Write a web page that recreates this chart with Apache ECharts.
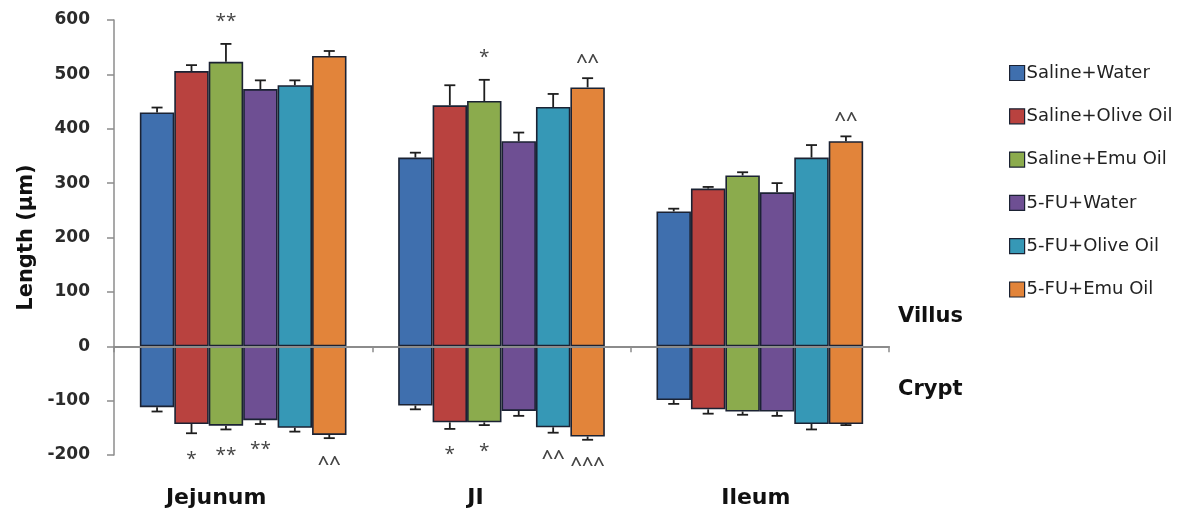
<!DOCTYPE html>
<html>
<head>
<meta charset="utf-8">
<script src="https://cdn.jsdelivr.net/npm/echarts@6/dist/echarts.min.js"></script>
<style>
html,body{margin:0;padding:0;background:#fff;}
#chart{width:1197px;height:517px;}
</style>
</head>
<body>
<div id="chart"></div>
<script>
// ---- data ----
const categories = ['Jejunum', 'JI', 'Ileum'];
const treatments = ['Saline+Water', 'Saline+Olive Oil', 'Saline+Emu Oil', '5-FU+Water', '5-FU+Olive Oil', '5-FU+Emu Oil'];
const colors = ['#3f6fae', '#b9423f', '#8bab4d', '#6e4f93', '#3698b6', '#e2843a'];
// villus length (positive), per treatment: [Jejunum, JI, Ileum]
const villusMean = [
  [430, 347, 248],
  [506, 443, 290],
  [523, 451, 314],
  [473, 377, 283],
  [480, 440, 347],
  [534, 476, 377]
];
const villusErr = [
  [9, 9, 5],
  [11, 37, 3],
  [33, 39, 6],
  [16, 16, 17],
  [9, 24, 23],
  [9, 17, 9]
];
// crypt depth (drawn negative)
const cryptMean = [
  [-112, -109, -99],
  [-143, -140, -116],
  [-146, -140, -120],
  [-136, -119, -120],
  [-150, -149, -143],
  [-163, -166, -143]
];
const cryptErr = [
  [8, 7, 7],
  [17, 12, 8],
  [7, 5, 6],
  [7, 9, 8],
  [7, 10, 10],
  [6, 6, 2]
];
// significance marks
const villusSig = [
  ['', '', ''],
  ['', '', ''],
  ['**', '*', ''],
  ['', '', ''],
  ['', '', ''],
  ['', '^^', '^^']
];
const cryptSig = [
  ['', '', ''],
  ['*', '*', ''],
  ['**', '*', ''],
  ['**', '', ''],
  ['', '^^', ''],
  ['^^', '^^^', '']
];
const yTicks = {min: -200, max: 600, interval: 100};
const yAxisName = 'Length (µm)';
const sideLabels = ['Villus', 'Crypt'];

// ---- chart ----
const chart = echarts.init(document.getElementById('chart'));
const BORDER = '#1b2233';
const CAT_GAP = '20%';
const series = [];
treatments.forEach((name, i) => {
  const style = {color: colors[i], borderColor: BORDER, borderWidth: 1.6};
  series.push({
    name: name, type: 'bar', stack: 's' + i, xAxisIndex: 0,
    barGap: '0%', barCategoryGap: CAT_GAP,
    itemStyle: style, data: villusMean[i], silent: true
  });
  series.push({
    name: name, type: 'bar', stack: 's' + i, xAxisIndex: 0,
    barGap: '0%', barCategoryGap: CAT_GAP,
    itemStyle: style, data: cryptMean[i], silent: true
  });
});
treatments.forEach((name, i) => {
  const data = [];
  categories.forEach((c, k) => {
    data.push([k, villusMean[i][k], villusErr[i][k], 1, villusSig[i][k]]);
    data.push([k, cryptMean[i][k], cryptErr[i][k], -1, cryptSig[i][k]]);
  });
  series.push({
    name: name, type: 'custom', xAxisIndex: 0, silent: true, z: 5,
    data: data,
    renderItem: function (params, api) {
      const k = api.value(0);
      const mean = api.value(1);
      const err = api.value(2);
      const dir = api.value(3);
      const sig = data[params.dataIndex][4];
      const layout = api.barLayout({barGap: '0%', barCategoryGap: CAT_GAP, count: treatments.length});
      const base = api.coord([k, mean]);
      const tip = api.coord([k, mean + dir * err]);
      const x = base[0] + layout[i].offsetCenter;
      const cap = 5.5;
      const ls = {stroke: '#1e1e1e', lineWidth: 1.8};
      const children = [
        {type: 'line', shape: {x1: x, y1: base[1], x2: x, y2: tip[1]}, style: ls},
        {type: 'line', shape: {x1: x - cap, y1: tip[1], x2: x + cap, y2: tip[1]}, style: ls}
      ];
      if (sig) {
        const isCaret = sig.indexOf('^') >= 0;
        let ty;
        if (dir > 0) ty = tip[1] - (isCaret ? 21 : 26);
        else ty = tip[1] + (isCaret ? 21 : 22);
        children.push({
          type: 'text',
          style: {
            text: sig, x: x, y: ty + (isCaret ? 5 : 4), align: 'center', verticalAlign: 'middle',
            fill: '#444', font: (isCaret ? '600 20px' : '19px') + ' "Open Sans"'
          }
        });
      }
      return {type: 'group', children: children};
    }
  });
});

const option = {
  animation: false,
  backgroundColor: '#ffffff',
  grid: {left: 114, right: 308, top: 20, bottom: 62, containLabel: false},
  legend: {
    orient: 'vertical', left: 1009, top: 64, itemGap: 25.3, padding: 0,
    itemWidth: 15, itemHeight: 15, itemStyle: {borderColor: BORDER, borderWidth: 1.2},
    icon: 'rect',
    data: treatments,
    textStyle: {fontFamily: 'DejaVu Sans', fontSize: 18, color: '#222', padding: [0, 0, 0, -3]},
    selectedMode: false
  },
  xAxis: [
    {
      type: 'category', data: categories, position: 'bottom', z: 10,
      axisLine: {onZero: true, lineStyle: {color: '#8c8c8c', width: 2}},
      axisTick: {show: true, length: 6, lineStyle: {color: '#8c8c8c', width: 1.5}},
      axisLabel: {show: false}, splitLine: {show: false}
    },
    {
      type: 'category', data: categories, position: 'bottom',
      axisLine: {show: false, onZero: false}, axisTick: {show: false},
      splitLine: {show: false},
      axisLabel: {
        margin: 32, fontFamily: 'DejaVu Sans', fontWeight: 'bold', fontSize: 22, color: '#111',
        formatter: function (v, idx) { return '{c' + idx + '|' + v + '}'; },
        rich: {
          c0: {fontFamily: 'DejaVu Sans', fontWeight: 'bold', fontSize: 22, color: '#111', padding: [0, 54, 0, 0]},
          c1: {fontFamily: 'DejaVu Sans', fontWeight: 'bold', fontSize: 22, color: '#111', padding: [0, 52, 0, 0]},
          c2: {fontFamily: 'DejaVu Sans', fontWeight: 'bold', fontSize: 22, color: '#111', padding: [0, 8, 0, 0]}
        }
      }
    }
  ],
  yAxis: {
    type: 'value', min: yTicks.min, max: yTicks.max, interval: yTicks.interval,
    name: yAxisName, nameLocation: 'middle', nameGap: 76, nameRotate: 90,
    nameTextStyle: {fontFamily: 'DejaVu Sans', fontWeight: 'bold', fontSize: 21, color: '#111'},
    axisLine: {show: true, lineStyle: {color: '#8c8c8c', width: 1.5}},
    axisTick: {show: true, length: 7, lineStyle: {color: '#8c8c8c', width: 1.5}},
    axisLabel: {margin: 24, fontFamily: 'DejaVu Sans', fontWeight: 'bold', fontSize: 17, color: '#2b2b2b'},
    splitLine: {show: false}
  },
  graphic: [
    {type: 'text', left: 898, top: 306, style: {text: sideLabels[0], font: 'bold 21px "DejaVu Sans"', fill: '#111'}},
    {type: 'text', left: 898, top: 379, style: {text: sideLabels[1], font: 'bold 21px "DejaVu Sans"', fill: '#111'}}
  ],
  series: series
};
chart.setOption(option);
</script>
</body>
</html>
